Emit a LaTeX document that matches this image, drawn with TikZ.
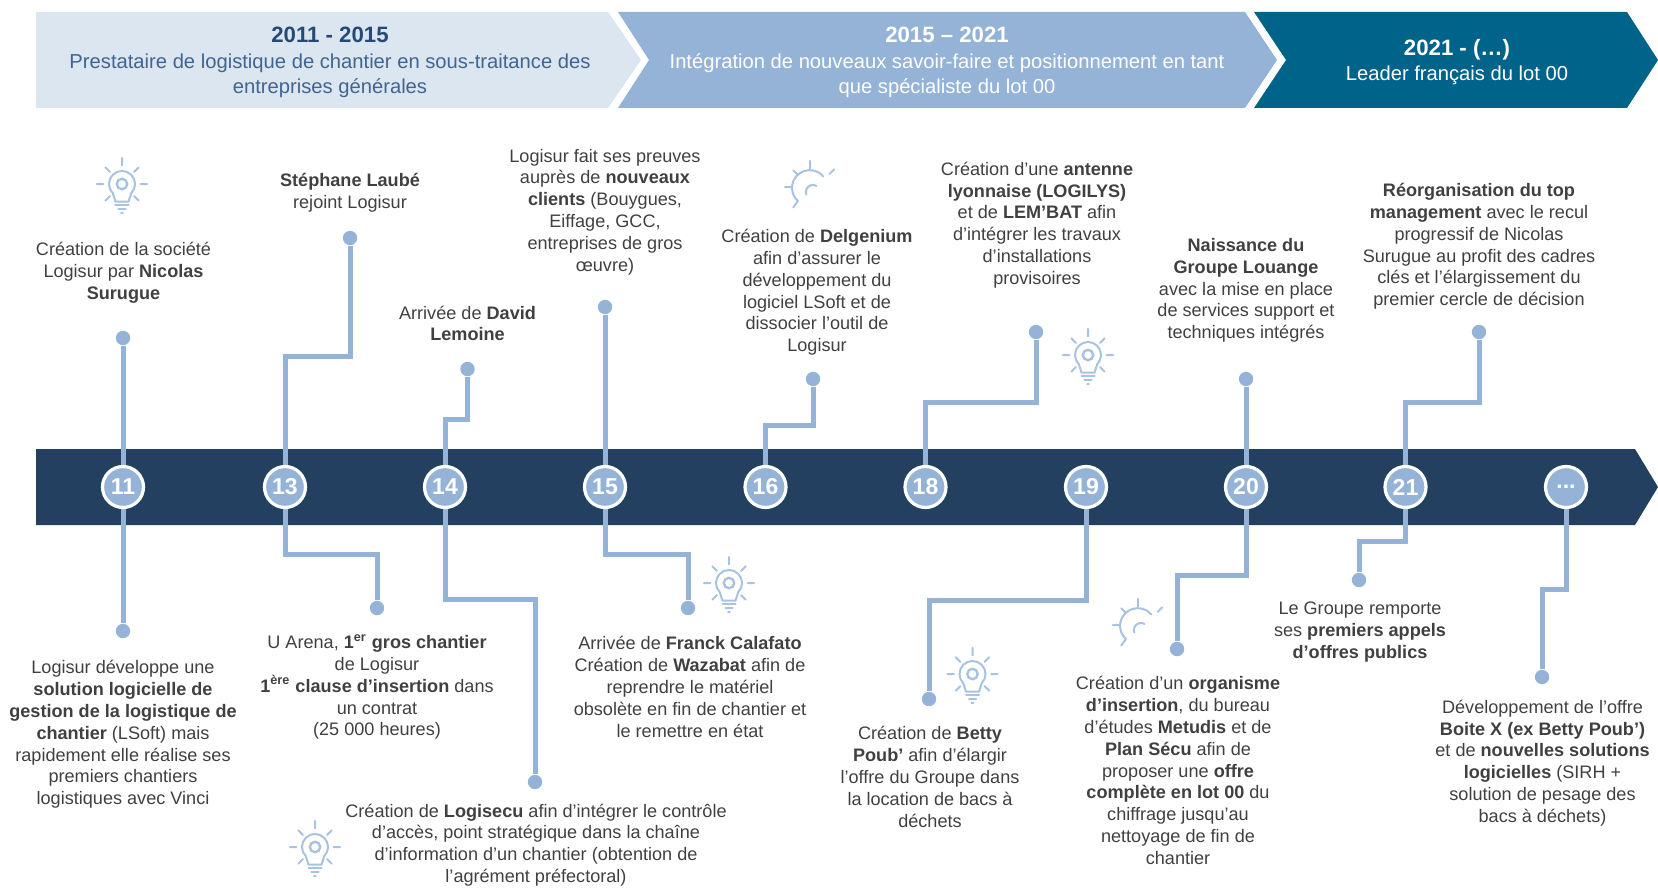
\documentclass[tikz,border=0pt]{standalone}
\usepackage{fontspec}
\setmainfont{Liberation Sans}
\definecolor{hlight}{HTML}{DCE6F1}
\definecolor{hmid}{HTML}{95B3D7}
\definecolor{hdark}{HTML}{006389}
\definecolor{navy}{HTML}{244061}
\definecolor{bodytxt}{HTML}{404040}
\definecolor{htxt}{HTML}{3F6590}
\definecolor{htitle}{HTML}{254A75}
\definecolor{iconc}{HTML}{A9C2E0}
\tikzset{
  x=0.5pt,y=-0.5pt,
  txt/.style={inner sep=0pt,align=center,text=bodytxt,font=\fontsize{9.05}{10.9}\selectfont},
  htext/.style={inner sep=0pt,align=center,font=\fontsize{10.1}{12.7}\selectfont},
  conn/.style={draw=hmid,line width=2.5pt,line join=miter},
  year/.style={circle,minimum size=20.5pt,inner sep=0pt,fill=hmid,draw=white,line width=1.6pt,text=white,font=\fontsize{11.5}{13}\selectfont\bfseries},
  enddot/.style={circle,fill=hmid,minimum size=7.2pt,inner sep=0pt},
  icon/.style={draw=iconc,line width=1pt,line cap=round,line join=round},
  rays/.pic={
    \draw[icon] (0,-28)--(0,-20) (-27,0)--(-20,0) (27,0)--(20,0)
      (-18,-18)--(-13,-13) (18,-18)--(13,-13);
    \draw[icon] (-18,18)--(-13,13) (18,18)--(13,13);
  },
  bulb/.pic={
    \begin{scope}[transform shape,scale=0.93]
    \pic {rays};
    \draw[icon] (-9.9,9.9) arc[start angle=225,end angle=-45,radius=7pt] -- (7,19) -- (-7,19) -- cycle;
    \draw[draw=iconc,line width=1.2pt] (0,0) circle[radius=2.8pt];
    \draw[icon] (-7,23)--(7,23) (-4,27)--(4,27) (-1,31)--(1,31);
    \end{scope}
  },
  halfbulb/.pic={
    \begin{scope}[transform shape,scale=0.93]
    \draw[icon] (0,-28)--(0,-20) (-27,0)--(-20,0) (26,-19)--(21,-14)
      (-18,-18)--(-13,-13) (-18,22)--(-13,15);
    \draw[icon] (-13,15) arc[start angle=228,end angle=40,radius=9.5pt];
    \draw[icon] (-4,8) arc[start angle=200,end angle=60,radius=3.8pt];
    \end{scope}
  }
}
\begin{document}
\begin{tikzpicture}
\useasboundingbox (0,0) rectangle (1658,888);
% header chevrons
\fill[hlight] (36,12)--(608,12)--(641,60)--(608,108)--(36,108)--cycle;
\fill[hmid] (618,12)--(1245,12)--(1277,60)--(1245,108)--(618,108)--(649,60)--cycle;
\fill[hdark] (1254,12)--(1627,12)--(1658,60)--(1627,108)--(1254,108)--(1286,60)--cycle;
\node[htext,text=htxt] (h1) at (330,62.5) {{\color{htitle}\fontsize{11.1}{12.7}\selectfont\textbf{2011 - 2015}}\\Prestataire de logistique de chantier en sous-traitance des\\entreprises générales};
\node[htext,text=white] (h2) at (947,62.5) {{\fontsize{11.1}{12.7}\selectfont\textbf{2015 – 2021}}\\Intégration de nouveaux savoir-faire et positionnement en tant\\que spécialiste du lot 00};
\node[htext,text=white] (h3) at (1457,62) {{\fontsize{11.1}{12.7}\selectfont\textbf{2021 - (…)}}\\Leader français du lot 00};
% timeline bar
\fill[navy] (36,449)--(1635,449)--(1658,487)--(1635,525)--(36,525)--cycle;
% coordinates of year discs, for connectors
\coordinate (p11) at (123,487);
\coordinate (p13) at (285,487);
\coordinate (p14) at (445,487);
\coordinate (p15) at (605,487);
\coordinate (p16) at (765.5,487);
\coordinate (p18) at (925.5,487);
\coordinate (p19) at (1086,487);
\coordinate (p20) at (1246,487);
\coordinate (p21) at (1405.5,487);
\coordinate (p22) at (1566,487);
% end dots
\node[enddot] (u11) at (123,338) {};
\node[enddot] (u13) at (350,238) {};
\node[enddot] (u14) at (467.5,369) {};
\node[enddot] (u15) at (605,307) {};
\node[enddot] (u16) at (813,379) {};
\node[enddot] (u18) at (1036,332) {};
\node[enddot] (u20) at (1246,379) {};
\node[enddot] (u21) at (1479,332) {};
\node[enddot] (d11) at (123,631) {};
\node[enddot] (d13) at (377,608) {};
\node[enddot] (d14) at (535,782) {};
\node[enddot] (d15) at (688,608) {};
\node[enddot] (d19) at (929,699) {};
\node[enddot] (d20) at (1177,649) {};
\node[enddot] (d21) at (1359,580) {};
\node[enddot] (d22) at (1542,677) {};
% connectors
\draw[conn] (p11) -- (u11);
\draw[conn] (p13) |- (320,356) -| (u13);
\draw[conn] (p14) |- (456,419.5) -| (u14);
\draw[conn] (p15) -- (u15);
\draw[conn] (p16) |- (790,425.5) -| (u16);
\draw[conn] (p18) |- (980,402) -| (u18);
\draw[conn] (p20) -- (u20);
\draw[conn] (p21) |- (1440,402) -| (u21);
\draw[conn] (p11) -- (d11);
\draw[conn] (p13) |- (330,554) -| (d13);
\draw[conn] (p14) |- (490,599) -| (d14);
\draw[conn] (p15) |- (650,554) -| (d15);
\draw[conn] (p19) |- (1000,600) -| (d19);
\draw[conn] (p20) |- (1210,575) -| (d20);
\draw[conn] (p21) |- (1380,541) -| (d21);
\draw[conn] (p22) |- (1550,589) -| (d22);
% year discs
\node[year] (c11) at (p11) {11};
\node[year] (c13) at (p13) {13};
\node[year] (c14) at (p14) {14};
\node[year] (c15) at (p15) {15};
\node[year] (c16) at (p16) {16};
\node[year] (c18) at (p18) {18};
\node[year] (c19) at (p19) {19};
\node[year] (c20) at (p20) {20};
\node[year] (c21) at (p21) {21};
\node[year] (c22) at (p22) {...};
% texts above
\node[txt] (t11u) at (123.5,273) {Création de la société\\Logisur par \textbf{Nicolas}\\\textbf{Surugue}};
\node[txt] (t13u) at (350,192.5) {\textbf{Stéphane Laubé}\\rejoint Logisur};
\node[txt] (t14u) at (467.5,323.5) {Arrivée de \textbf{David}\\\textbf{Lemoine}};
\node[txt] (t15u) at (605,212) {Logisur fait ses preuves\\auprès de \textbf{nouveaux}\\\textbf{clients} (Bouygues,\\Eiffage, GCC,\\entreprises de gros\\œuvre)};
\node[txt] (t16u) at (817,292.5) {Création de \textbf{Delgenium}\\afin d’assurer le\\développement du\\logiciel LSoft et de\\dissocier l’outil de\\Logisur};
\node[txt] (t18u) at (1037,225) {Création d’une \textbf{antenne}\\\textbf{lyonnaise (LOGILYS)}\\et de \textbf{LEM’BAT} afin\\d’intégrer les travaux\\d’installations\\provisoires};
\node[txt] (t20u) at (1246,290.5) {\textbf{Naissance du}\\\textbf{Groupe Louange}\\avec la mise en place\\de services support et\\techniques intégrés};
\node[txt] (t21u) at (1479,246.5) {\textbf{Réorganisation du top}\\\textbf{management} avec le recul\\progressif de Nicolas\\Surugue au profit des cadres\\clés et l’élargissement du\\premier cercle de décision};
% texts below
\node[txt] (t11d) at (123,734.5) {Logisur développe une\\\textbf{solution logicielle de}\\\textbf{gestion de la logistique de}\\\textbf{chantier} (LSoft) mais\\rapidement elle réalise ses\\premiers chantiers\\logistiques avec Vinci};
\node[txt] (t13d) at (377,687) {U Arena, \textbf{1\textsuperscript{er} gros chantier}\\de Logisur\\\textbf{1\textsuperscript{ère} clause d’insertion} dans\\un contrat\\(25 000 heures)};
\node[txt] (t14d) at (536,845) {Création de \textbf{Logisecu} afin d’intégrer le contrôle\\d’accès, point stratégique dans la chaîne\\d’information d’un chantier (obtention de\\l’agrément préfectoral)};
\node[txt] (t15d) at (690,687) {Arrivée de \textbf{Franck Calafato}\\Création de \textbf{Wazabat} afin de\\reprendre le matériel\\obsolète en fin de chantier et\\le remettre en état};
\node[txt] (t19d) at (930,777) {Création de \textbf{Betty}\\\textbf{Poub’} afin d’élargir\\l’offre du Groupe dans\\la location de bacs à\\déchets};
\node[txt] (t20d) at (1178,770.5) {Création d’un \textbf{organisme}\\\textbf{d’insertion}, du bureau\\d’études \textbf{Metudis} et de\\\textbf{Plan Sécu} afin de\\proposer une \textbf{offre}\\\textbf{complète en lot 00} du\\chiffrage jusqu’au\\nettoyage de fin de\\chantier};
\node[txt] (t21d) at (1360,632) {Le Groupe remporte\\ses \textbf{premiers appels}\\\textbf{d’offres publics}};
\node[txt] (t22d) at (1542.5,763) {Développement de l’offre\\\textbf{Boite X (ex Betty Poub’)}\\et de \textbf{nouvelles solutions}\\\textbf{logicielles} (SIRH +\\solution de pesage des\\bacs à déchets)};
% icons
\pic at (122,184) {bulb};
\pic at (1088,355) {bulb};
\pic at (729,583) {bulb};
\pic at (315,847) {bulb};
\pic at (972.5,674) {bulb};
\pic at (810,187) {halfbulb};
\pic at (1138,625) {halfbulb};
\end{tikzpicture}
\end{document}
